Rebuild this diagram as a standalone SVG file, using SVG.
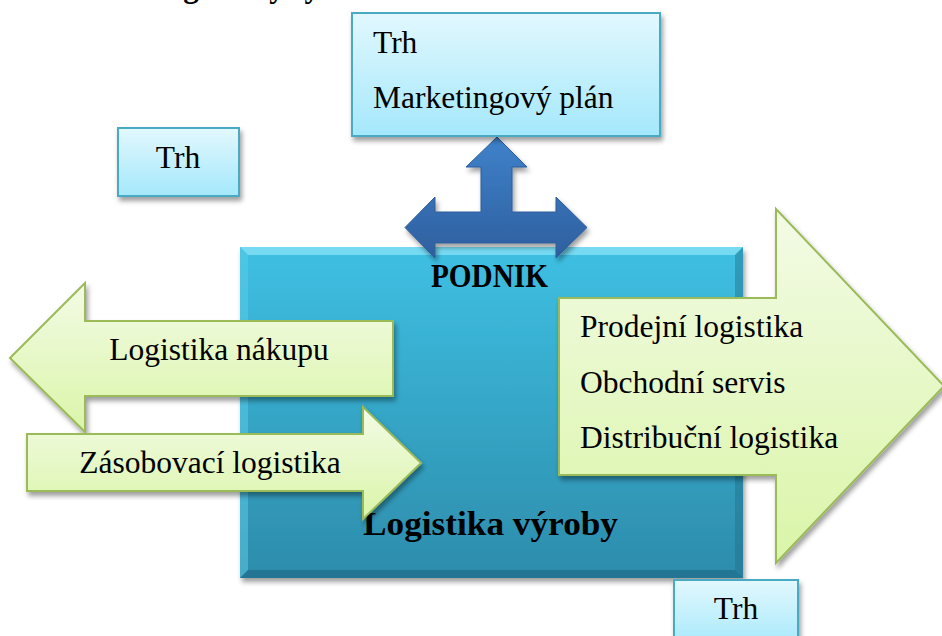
<svg xmlns="http://www.w3.org/2000/svg" width="942" height="636" viewBox="0 0 942 636">
  <defs>
    <linearGradient id="gBox" x1="0" y1="0" x2="0" y2="1">
      <stop offset="0" stop-color="#e2f8fe"/>
      <stop offset="1" stop-color="#a4e8fb"/>
    </linearGradient>
    <linearGradient id="gMain" x1="0" y1="0" x2="0" y2="1">
      <stop offset="0" stop-color="#3ec0e3"/>
      <stop offset="1" stop-color="#2d8cab"/>
    </linearGradient>
    <linearGradient id="gGreen" x1="0" y1="0" x2="0" y2="1">
      <stop offset="0" stop-color="#f3fbe6"/>
      <stop offset="1" stop-color="#daf5a8"/>
    </linearGradient>
    <linearGradient id="gBlue" x1="0" y1="0" x2="0" y2="1">
      <stop offset="0" stop-color="#3f82ca"/>
      <stop offset="1" stop-color="#2e5f9f"/>
    </linearGradient>
    <filter id="shadow" x="-10%" y="-10%" width="125%" height="130%">
      <feDropShadow dx="2" dy="4" stdDeviation="2.5" flood-color="#000" flood-opacity="0.38"/>
    </filter>
  </defs>
  <style>
    text { font-family: "Liberation Serif", "Times New Roman", serif; fill: #000; }
    .lbl { font-size: 31.5px; }
    .bold { font-weight: bold; }
    .box { fill: url(#gBox); stroke: #4aaac4; stroke-width: 2; filter: url(#shadow); }
    .green { fill: url(#gGreen); stroke: #9bbb59; stroke-width: 2; filter: url(#shadow); }
  </style>

  <!-- heading, mostly above the visible area -->
  <text x="147" y="-3" class="bold" font-size="31">Logistický systém</text>

  <!-- enterprise block -->
  <g id="podnik">
    <rect x="240" y="247" width="503" height="331" fill="url(#gMain)" filter="url(#shadow)"/>
    <polygon points="240,247 743,247 735,255 248,255" fill="#8ae3f7" opacity="0.75"/>
    <polygon points="240,247 248,255 248,570 240,578" fill="#5fcbe8" opacity="0.5"/>
    <polygon points="743,247 743,578 735,570 735,255" fill="#1f6f8a" opacity="0.45"/>
    <polygon points="240,578 743,578 735,570 248,570" fill="#1c6580" opacity="0.55"/>
    <text x="489.5" y="287" class="bold" font-size="33" text-anchor="middle" textLength="117" lengthAdjust="spacingAndGlyphs">PODNIK</text>
    <text x="490.5" y="535" class="bold" font-size="34" text-anchor="middle" textLength="255" lengthAdjust="spacingAndGlyphs">Logistika výroby</text>
  </g>

  <!-- flows to the market -->
  <g id="connectors">
    <path d="M405,227.5 L435,197 L435,212 L481,212 L481,167 L466,167 L497,137 L527,167 L512,167 L512,212 L556,212 L556,197 L587,227.5 L556,258 L556,243 L435,243 L435,258 Z" fill="url(#gBlue)" stroke="#2d5d9a" stroke-width="1" filter="url(#shadow)"/>
  </g>

  <g id="trh-marketing">
    <rect x="352" y="13" width="308" height="123" class="box"/>
    <text x="373" y="53" class="lbl">Trh</text>
    <text x="373" y="108" class="lbl">Marketingový plán</text>
  </g>

  <g id="trh-left">
    <rect x="118" y="128" width="121" height="68" class="box"/>
    <text x="178" y="168" class="lbl" text-anchor="middle">Trh</text>
  </g>

  <g id="logistika-nakupu">
    <path d="M10,358 L85,283 L85,321 L393,321 L393,396 L85,396 L85,432 Z" class="green"/>
    <text x="219" y="360" class="lbl" text-anchor="middle">Logistika nákupu</text>
  </g>

  <g id="zasobovaci-logistika">
    <path d="M27,434 L363,434 L363,407 L421,463 L363,519 L363,491 L27,491 Z" class="green"/>
    <text x="210" y="473" class="lbl" text-anchor="middle">Zásobovací logistika</text>
  </g>

  <g id="prodejni-logistika">
    <path d="M559,298 L776,298 L776,209 L944,386 L776,563 L776,475 L559,475 Z" class="green"/>
    <text x="580" y="337" class="lbl">Prodejní logistika</text>
    <text x="580" y="393" class="lbl">Obchodní servis</text>
    <text x="580" y="448" class="lbl">Distribuční logistika</text>
  </g>

  <g id="trh-bottom">
    <rect x="674" y="580" width="124" height="70" class="box"/>
    <text x="736" y="619" class="lbl" text-anchor="middle">Trh</text>
  </g>
</svg>
